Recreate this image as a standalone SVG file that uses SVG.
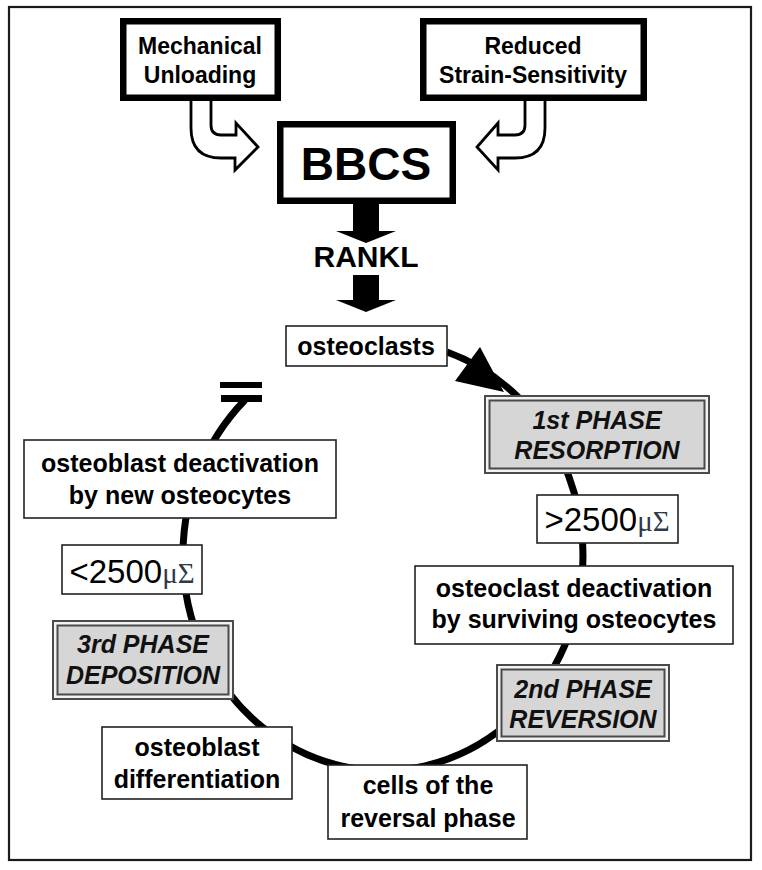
<svg xmlns="http://www.w3.org/2000/svg" width="762" height="870" viewBox="0 0 762 870">
<style>
  .t { font-family: "Liberation Sans", Arial, sans-serif; font-weight: bold; fill: #000; text-anchor: middle; }
  .ti { font-family: "Liberation Sans", Arial, sans-serif; font-weight: bold; font-style: italic; fill: #111; text-anchor: middle; font-size: 25px; }
  .box { fill: #fff; stroke: #222; stroke-width: 1.6; }
  .thick { fill: #fff; stroke: #000; stroke-width: 6.5; }
  .pout { fill: #f2f2f2; stroke: #4a4a4a; stroke-width: 2; }
  .pin { fill: #d6d6d6; stroke: #4a4a4a; stroke-width: 2; }
  .num { font-family: "Liberation Sans", Arial, sans-serif; font-size: 33px; fill: #000; }
  .sym { font-family: "Liberation Serif", "Times New Roman", serif; font-size: 29px; fill: #2e3a48; }
  .hollow { fill: #fff; stroke: #000; stroke-width: 2.8; stroke-linejoin: miter; }
</style>
<rect x="0" y="0" width="762" height="870" fill="#fff"/>
<rect x="9" y="7" width="742" height="853" fill="none" stroke="#1a1a1a" stroke-width="2.2"/>

<g id="connectors">
  <path id="cycle" d="M 447 352 A 200 215 0 1 1 245 400" fill="none" stroke="#000" stroke-width="7"/>
  <polygon id="cycle-head" points="480,347 455,381 504,392" fill="#000"/>
  <rect x="220" y="382" width="42" height="6" fill="#000"/>
  <rect x="221" y="395" width="41" height="7" fill="#000"/>
  <path d="M 191 101 L 191 128 Q 191 158 221 158 L 235 158 L 235 170 L 258 147 L 236 123 L 236 135 L 221 135 Q 211 135 211 125 L 211 101" class="hollow"/>
  <path d="M 545 101 L 545 128 Q 545 158 515 158 L 498 158 L 498 170 L 477 147 L 498 123 L 498 135 L 515 135 Q 525 135 525 125 L 525 101" class="hollow"/>
  <path d="M 353 204 L 379 204 L 379 231 L 396 231 L 366 243 L 336 231 L 353 231 Z" fill="#000"/>
  <path d="M 353 275 L 379 275 L 379 300 L 396 300 L 366 312 L 336 300 L 353 300 Z" fill="#000"/>
</g>

<g id="mechanical">
  <rect class="thick" x="123.25" y="21.25" width="154.5" height="76.5"/>
  <text class="t" x="200" y="54" font-size="23">Mechanical</text>
  <text class="t" x="200" y="83" font-size="23">Unloading</text>
</g>
<g id="reduced">
  <rect class="thick" x="423.25" y="21.25" width="220.5" height="76.5"/>
  <text class="t" x="533" y="54" font-size="23">Reduced</text>
  <text class="t" x="533" y="83" font-size="23">Strain-Sensitivity</text>
</g>
<g id="bbcs">
  <rect class="thick" x="280.25" y="124.25" width="172.5" height="76.5"/>
  <text class="t" x="366" y="180" font-size="46">BBCS</text>
</g>
<g id="rankl">
  <text class="t" x="366" y="267" font-size="30">RANKL</text>
</g>
<g id="osteoclasts">
  <rect class="box" x="286" y="326" width="161" height="40"/>
  <text class="t" x="366" y="355" font-size="25">osteoclasts</text>
</g>
<g id="phase1">
  <rect class="pout" x="485" y="396" width="224" height="77"/>
  <rect class="pin" x="489.5" y="400.5" width="215" height="68"/>
  <text class="ti" x="597" y="429">1st PHASE</text>
  <text class="ti" x="597" y="459">RESORPTION</text>
</g>
<g id="gt2500">
  <rect class="box" x="537" y="495" width="141" height="48"/>
  <text x="607" y="531" text-anchor="middle"><tspan class="num">&gt;2500</tspan><tspan class="sym">μΣ</tspan></text>
</g>
<g id="osteoclast-deactivation">
  <rect class="box" x="415" y="566" width="318" height="78"/>
  <text class="t" x="574" y="597" font-size="25">osteoclast deactivation</text>
  <text class="t" x="574" y="628" font-size="25">by surviving osteocytes</text>
</g>
<g id="phase2">
  <rect class="pout" x="497" y="665" width="172" height="76"/>
  <rect class="pin" x="501.5" y="669.5" width="163" height="67"/>
  <text class="ti" x="583" y="698">2nd PHASE</text>
  <text class="ti" x="583" y="728">REVERSION</text>
</g>
<g id="reversal-cells">
  <rect class="box" x="328" y="765" width="199" height="74"/>
  <text class="t" x="428" y="794" font-size="25">cells of the</text>
  <text class="t" x="428" y="827" font-size="25">reversal phase</text>
</g>
<g id="osteoblast-differentiation">
  <rect class="box" x="102" y="727" width="190" height="72"/>
  <text class="t" x="197" y="756" font-size="25">osteoblast</text>
  <text class="t" x="197" y="788" font-size="25">differentiation</text>
</g>
<g id="phase3">
  <rect class="pout" x="53" y="621" width="180" height="78"/>
  <rect class="pin" x="57.5" y="625.5" width="171" height="69"/>
  <text class="ti" x="143" y="653">3rd PHASE</text>
  <text class="ti" x="143" y="684">DEPOSITION</text>
</g>
<g id="lt2500">
  <rect class="box" x="62" y="545" width="140" height="49"/>
  <text x="132" y="583" text-anchor="middle"><tspan class="num">&lt;2500</tspan><tspan class="sym">μΣ</tspan></text>
</g>
<g id="osteoblast-deactivation">
  <rect class="box" x="24" y="440" width="312" height="78"/>
  <text class="t" x="180" y="472" font-size="25">osteoblast deactivation</text>
  <text class="t" x="180" y="504" font-size="25">by new osteocytes</text>
</g>
</svg>
